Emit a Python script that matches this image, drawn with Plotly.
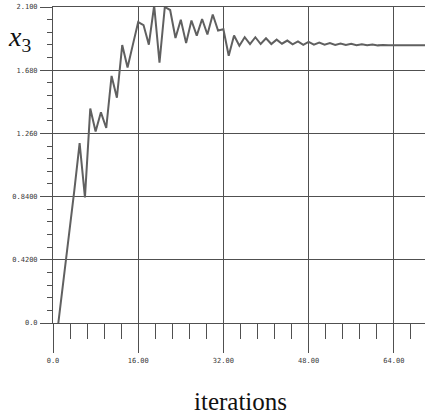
import plotly.graph_objects as go

# Iteration number and value of x3 at each step
iterations = list(range(1, 72))
x3_values = [
    0.000, 0.285, 0.570, 0.880, 1.195, 0.835, 1.425, 1.273, 1.400, 1.296,
    1.642, 1.497, 1.847, 1.698, 1.850, 2.000, 1.980, 1.850, 2.110, 1.730,
    2.100, 2.080, 1.894, 2.015, 1.860, 2.010, 1.910, 2.020, 1.917, 2.050,
    1.944, 1.952, 1.776, 1.910, 1.843, 1.899, 1.854, 1.899, 1.854, 1.892,
    1.854, 1.883, 1.856, 1.877, 1.852, 1.872, 1.848, 1.868, 1.850, 1.863,
    1.849, 1.860, 1.848, 1.857, 1.847, 1.855, 1.846, 1.852, 1.846, 1.850,
    1.845, 1.848, 1.845, 1.847, 1.845, 1.846, 1.845, 1.845, 1.845, 1.845,
    1.845,
]

x_tick_vals = [0, 16, 32, 48, 64]
x_tick_text = ["0.0", "16.00", "32.00", "48.00", "64.00"]
y_tick_vals = [0.0, 0.42, 0.84, 1.26, 1.68, 2.10]
y_tick_text = ["0.0", "0.4200", "0.8400", "1.260", "1.680", "2.100"]

grid_col = "#505050"
tick_font = dict(family="DejaVu Sans Mono", size=7, color="#3a3a3a")

fig = go.Figure()
fig.add_trace(go.Scatter(
    x=iterations, y=x3_values, mode="lines",
    line=dict(color="#606060", width=2),
    showlegend=False, hoverinfo="skip",
))

fig.update_layout(
    width=425, height=416,
    margin=dict(l=53, r=0, t=7, b=93),
    paper_bgcolor="white", plot_bgcolor="white",
    xaxis=dict(
        range=[0, 69.86],
        tickvals=x_tick_vals, ticktext=x_tick_text,
        ticks="outside", ticklen=29, tickwidth=1, tickcolor=grid_col,
        tickfont=tick_font, ticklabelstandoff=2,
        showgrid=True, gridcolor=grid_col, gridwidth=1,
        showline=True, linecolor=grid_col, linewidth=1, mirror=True,
        zeroline=False,
        minor=dict(dtick=3.2, tick0=0, ticks="outside", ticklen=15,
                   tickwidth=1, tickcolor=grid_col, showgrid=False),
    ),
    yaxis=dict(
        range=[0, 2.1],
        tickvals=y_tick_vals, ticktext=y_tick_text,
        ticks="outside", ticklen=12, tickwidth=1, tickcolor=grid_col,
        tickfont=tick_font, ticklabelstandoff=1,
        showgrid=True, gridcolor=grid_col, gridwidth=1,
        showline=True, linecolor=grid_col, linewidth=1,
        zeroline=False,
        minor=dict(dtick=0.084, tick0=0, ticks="outside", ticklen=5,
                   tickwidth=1, tickcolor=grid_col, showgrid=False),
    ),
    annotations=[
        dict(text="<i>x</i><sub>3</sub>", xref="paper", yref="paper",
             x=-0.126, y=0.90, xanchor="left", yanchor="middle",
             showarrow=False,
             font=dict(family="Liberation Serif", size=28, color="#111111")),
        dict(text="iterations", xref="paper", yref="paper",
             x=0.503, y=-0.247, xanchor="center", yanchor="middle",
             showarrow=False,
             font=dict(family="Liberation Serif", size=25, color="#111111")),
    ],
)

fig.write_html("out.html")
